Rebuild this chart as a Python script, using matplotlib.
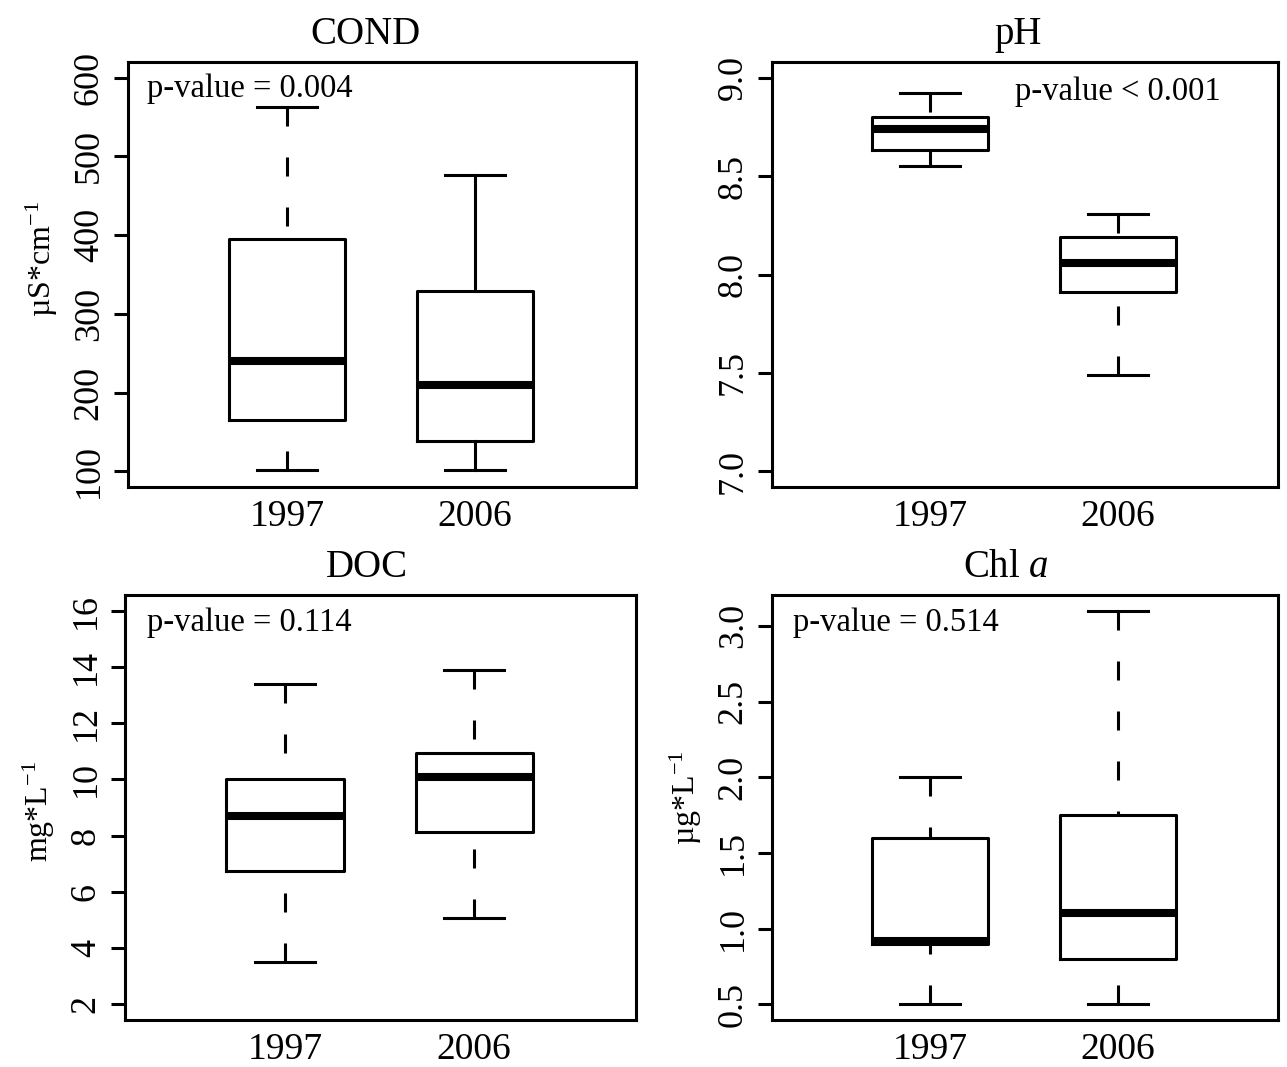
import matplotlib
matplotlib.use('Agg')
import matplotlib.pyplot as plt
import numpy as np

plt.rcParams['font.family'] = ['Liberation Serif', 'DejaVu Serif']
plt.rcParams['mathtext.fontset'] = 'custom'
plt.rcParams['mathtext.rm'] = 'Liberation Serif'
plt.rcParams['mathtext.it'] = 'Liberation Serif:italic'
plt.rcParams['lines.scale_dashes'] = False

# ---- data (whisker low, Q1, median, Q3, whisker high) ----
years = ['1997', '2006']
cond_1997 = [102, 165, 240, 395, 563]
cond_2006 = [101, 139, 209, 329, 476]
ph_1997 = [8.55, 8.635, 8.74, 8.80, 8.92]
ph_2006 = [7.49, 7.91, 8.06, 8.19, 8.31]
doc_1997 = [3.5, 6.74, 8.68, 10.0, 13.4]
doc_2006 = [5.08, 8.14, 10.10, 10.94, 13.89]
chl_1997 = [0.5, 0.90, 0.92, 1.60, 2.0]
chl_2006 = [0.5, 0.80, 1.10, 1.75, 3.1]

titles = ['COND', 'pH', 'DOC', r'Chl $\mathit{a}$']
title_x = [0.468, 0.487, 0.474, 0.462]
ylabels = [r'µS*cm$^{\mathrm{-1}}$', '', r'mg*L$^{-1}$', r'µg*L$^{\mathrm{-1}}$']
ylabel_y = [0.537, 0.5, 0.49, 0.523]
pvalues = ['p-value = 0.004', 'p-value < 0.001', 'p-value = 0.114', 'p-value = 0.514']
yticks_list = [[100, 200, 300, 400, 500, 600],
               [7.0, 7.5, 8.0, 8.5, 9.0],
               [2, 4, 6, 8, 10, 12, 14, 16],
               [0.5, 1.0, 1.5, 2.0, 2.5, 3.0]]
ylims = [(80, 620), (6.92, 9.08), (1.44, 16.56), (0.396, 3.204)]
tickfmt = ['{:.0f}', '{:.1f}', '{:.0f}', '{:.1f}']
panel_stats = [(cond_1997, cond_2006), (ph_1997, ph_2006),
               (doc_1997, doc_2006), (chl_1997, chl_2006)]
solid_whiskers = [(False, True), (False, False), (False, False), (False, False)]
ptext_pos = [(0.037, 0.937, 'left'), (0.48, 0.93, 'left'),
             (0.043, 0.934, 'left'), (0.0415, 0.934, 'left')]

W, H = 1287, 1067
fig = plt.figure(figsize=(W / 100, H / 100), dpi=100)

# axes rectangles in pixels: left, right, top, bottom
rects_px = [(128, 636, 62, 487), (772, 1278, 62, 487),
            (125, 636, 595, 1020), (772, 1278, 595, 1020)]

lw = 2.2
for i, (l, r, t, b) in enumerate(rects_px):
    ax = fig.add_axes([l / W, 1 - b / H, (r - l) / W, (b - t) / H])
    s1997, s2006 = panel_stats[i]
    stats = []
    for lab, s in zip(years, (s1997, s2006)):
        stats.append(dict(label=lab, whislo=s[0], q1=s[1], med=s[2],
                          q3=s[3], whishi=s[4], fliers=[]))
    res = ax.bxp(stats, positions=[1, 2], widths=0.62, capwidths=0.32,
                 showfliers=False,
                 boxprops=dict(color='black', linewidth=lw),
                 medianprops=dict(color='black', linewidth=5.8, solid_capstyle='butt'),
                 whiskerprops=dict(color='black', linewidth=lw),
                 capprops=dict(color='black', linewidth=lw))
    for j, wl in enumerate(res['whiskers']):
        box_idx = j // 2
        x = wl.get_xdata()
        y = wl.get_ydata()
        wl.set_data(x[::-1], y[::-1])  # dash pattern starts at the cap
        if not solid_whiskers[i][box_idx]:
            wl.set_dashes([13.7, 22.3])
            wl.set_dash_capstyle('butt')
    ax.set_xlim(0.155, 2.855)
    ax.set_ylim(*ylims[i])
    ax.set_yticks(yticks_list[i])
    ax.set_yticklabels([tickfmt[i].format(v) for v in yticks_list[i]],
                       rotation=90, va='center', fontsize=26)
    ax.set_xticks([1, 2])
    ax.set_xticklabels(years, fontsize=27)
    ax.tick_params(axis='x', length=0, pad=9)
    ax.tick_params(axis='y', length=10, width=lw, pad=6, direction='out')
    for sp in ax.spines.values():
        sp.set_linewidth(lw)
    ax.set_title(titles[i], fontsize=28, pad=13, x=title_x[i])
    if ylabels[i]:
        ax.set_ylabel(ylabels[i], fontsize=23)
        ax.yaxis.set_label_coords(-0.134, ylabel_y[i])
    px, py, ha = ptext_pos[i]
    ax.text(px, py, pvalues[i], transform=ax.transAxes, fontsize=23.5,
            ha=ha, va='center')

fig.savefig('out.png', dpi=100)
